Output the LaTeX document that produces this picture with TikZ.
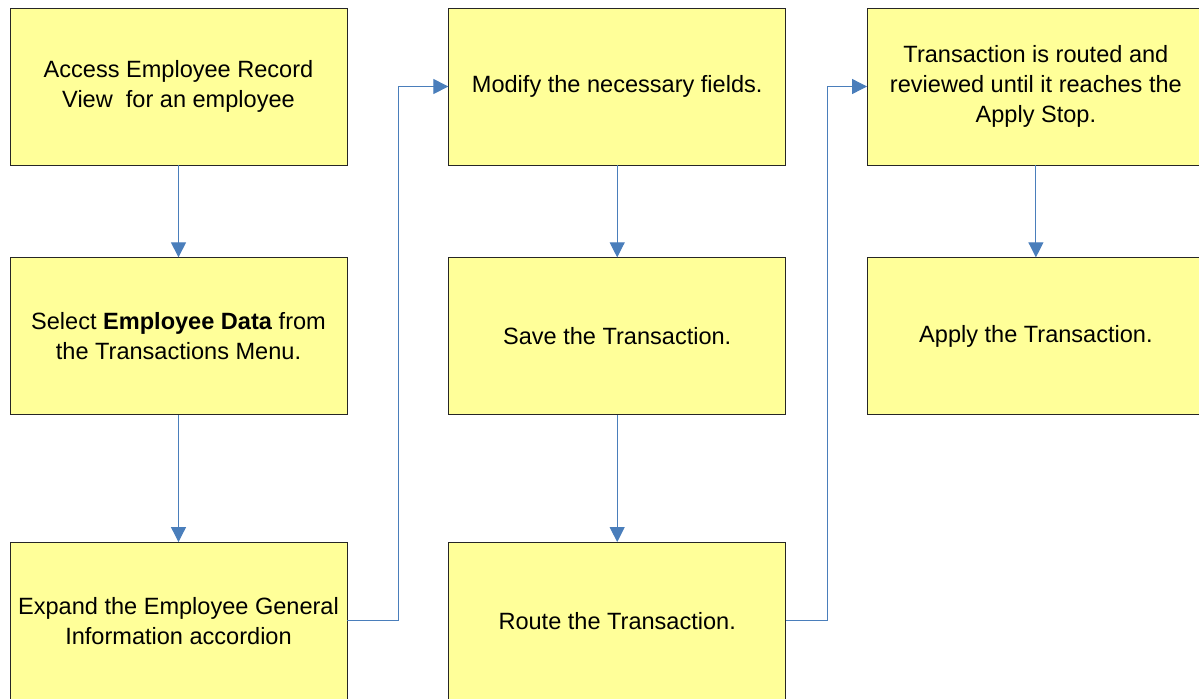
\documentclass[tikz,border=0pt]{standalone}
\usepackage{fontspec}
\setmainfont{Liberation Sans}
\usepackage{tikz}
\usetikzlibrary{positioning,arrows.meta}
\definecolor{amarillo}{HTML}{FFFF99}
\definecolor{azulflecha}{HTML}{4A7EBB}
\tikzstyle{caja} = [rectangle,minimum width=6.74cm,minimum height=3.14cm,align=center,inner sep=0pt,draw=black!85,fill=amarillo,text=black]
\tikzstyle{flecha} = [azulflecha,semithick,-{Triangle[length=0.3cm,width=0.3cm]}]

\begin{document}
\begin{tikzpicture}
\tikzstyle{every node}=[font=\fontsize{13.4}{17}\selectfont]
\useasboundingbox (0,0) rectangle (23.98,-13.96);
\clip (0,0) rectangle (23.98,-13.96);

% first column
\node (access) [caja] at (3.57,-1.73) {Access Employee Record\\View~ for an employee};
\node (select) [caja,below=1.84cm of access] {Select \textbf{Employee Data} from\\the Transactions Menu.};
\node (expand) [caja,below=2.54cm of select] {Expand the Employee General\\Information accordion};

% second column
\node (modify) [caja,right=2.02cm of access] {Modify the necessary fields.};
\node (save)   [caja,below=1.84cm of modify] {Save the Transaction.};
\node (route)  [caja,below=2.54cm of save] {Route the Transaction.};

% third column
\node (routed) [caja,right=1.62cm of modify] {Transaction is routed and\\reviewed until it reaches the\\Apply Stop.};
\node (apply)  [caja,below=1.84cm of routed] {Apply the Transaction.};

\draw[flecha] (access) -- (select);
\draw[flecha] (select) -- (expand);
\draw[flecha] (expand.east) -- ++(1.02,0) |- (modify.west);
\draw[flecha] (modify) -- (save);
\draw[flecha] (save) -- (route);
\draw[flecha] (route.east) -- ++(0.82,0) |- (routed.west);
\draw[flecha] (routed) -- (apply);

\end{tikzpicture}
\end{document}
